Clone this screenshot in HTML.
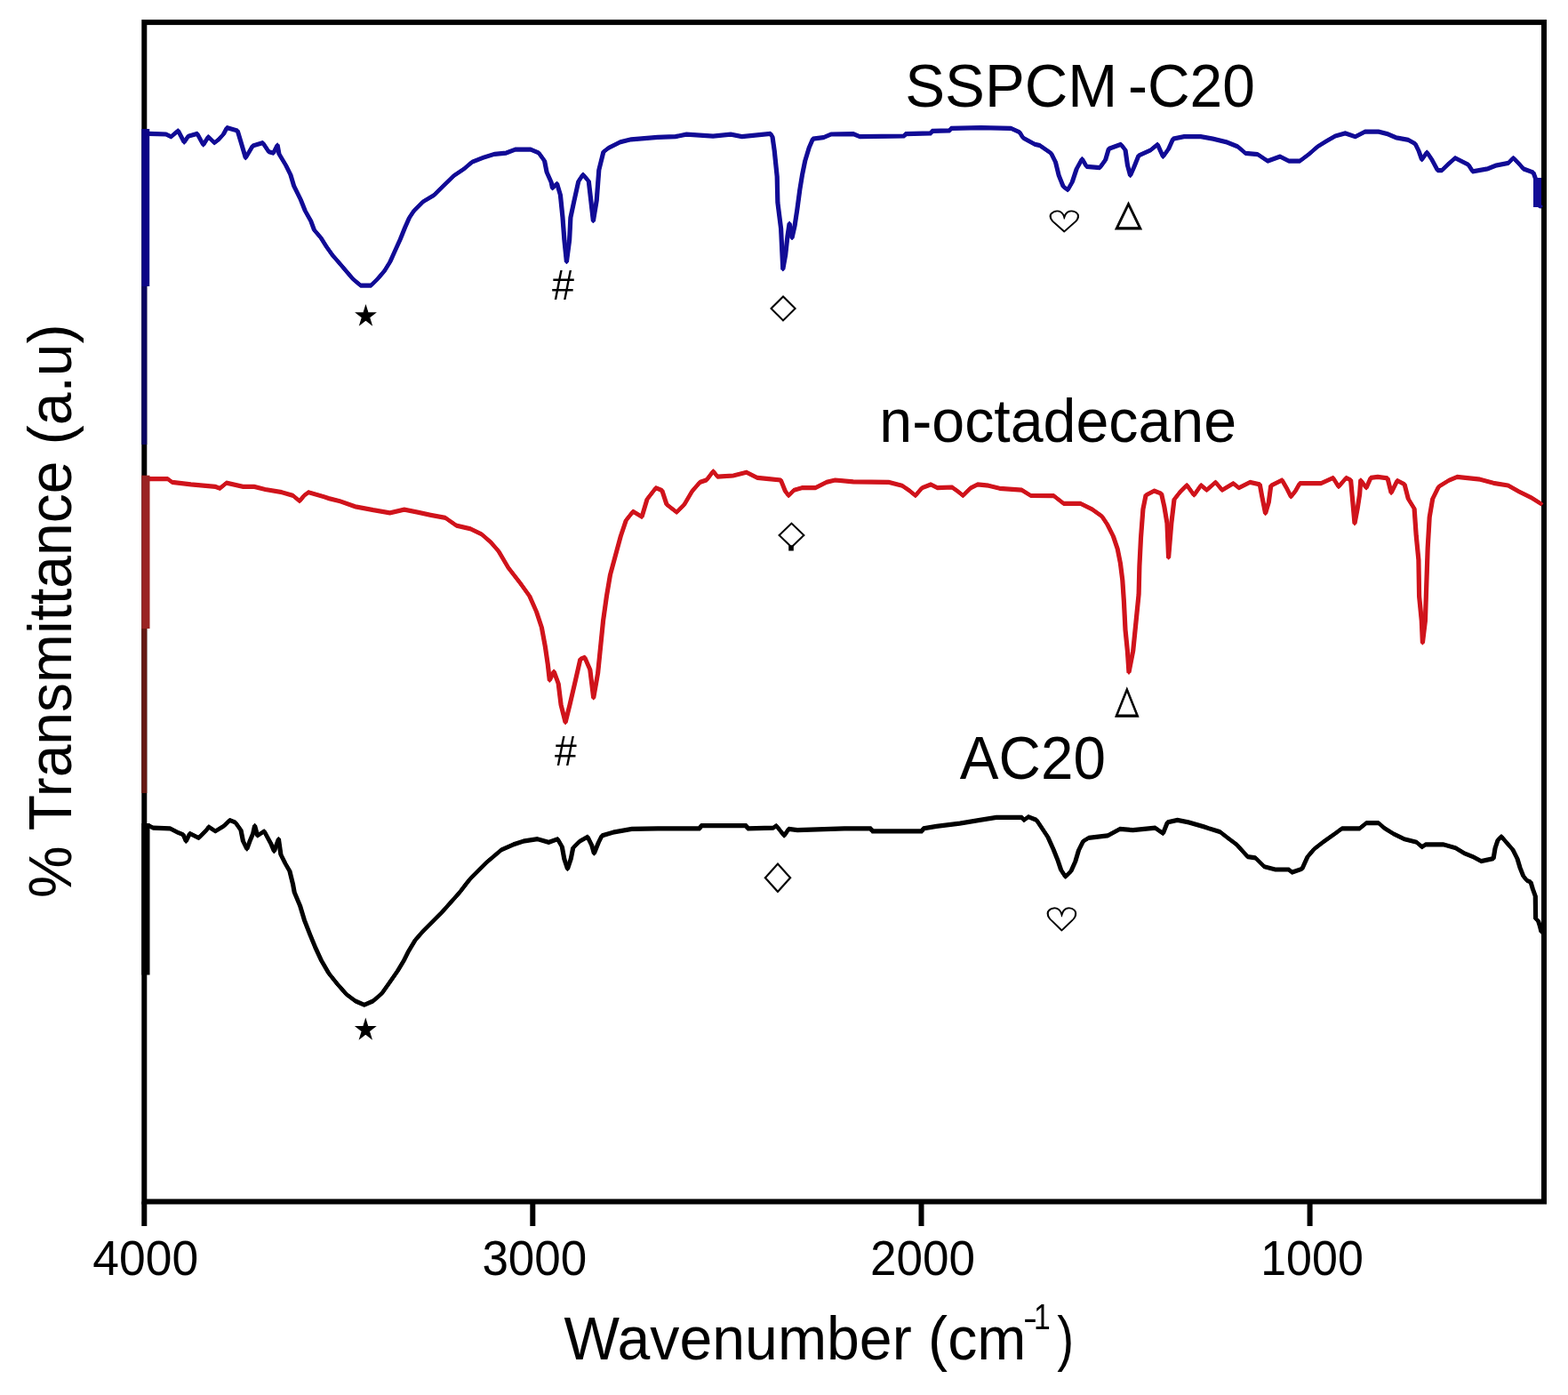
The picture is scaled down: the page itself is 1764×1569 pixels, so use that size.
<!DOCTYPE html>
<html><head><meta charset="utf-8"><title>FTIR spectra</title>
<style>
html,body{margin:0;padding:0;background:#fff;overflow:hidden;}
svg{display:block;}
.t{font-family:"Liberation Sans",Arial,sans-serif;fill:#000;}
.s{font-family:"DejaVu Sans","Liberation Sans",sans-serif;fill:#000;}
</style></head><body>
<svg width="1764" height="1569" viewBox="0 0 1764 1569">
<rect x="0" y="0" width="1764" height="1569" fill="#fff"/>
<g fill="none" stroke="#000" stroke-width="6">
<rect x="162.3" y="25.1" width="1574.70" height="1326.40"/>
<line x1="162.3" y1="1351.5" x2="162.3" y2="1379"/>
<line x1="599.3" y1="1351.5" x2="599.3" y2="1379"/>
<line x1="1036.5" y1="1351.5" x2="1036.5" y2="1379"/>
<line x1="1473.6" y1="1351.5" x2="1473.6" y2="1379"/>
</g>
<g fill="none" stroke-linejoin="round" stroke-linecap="round">
<polyline stroke="#120c96" stroke-width="3.8" points="163.5,150.4 167.5,150.4 186.7,151 192.4,153.8 200.4,147 207.2,160 211.7,153.2 221.9,150.4 228.7,162.9 234.4,153.8 241.2,160.6 245.7,157.2 251.4,151 255.3,143.6 267.2,147 270.6,158.3 276.3,177.6 284.3,164 295.6,160.6 302.4,170.8 307.6,172.1 312.1,163.1 314,173.3 321.7,186.1 326.8,196.3 330.6,209 338.2,224.3 343.3,237.1 349.7,248.5 353.5,258.7 361.2,267.7 367.6,277.9 373.9,286.8 381.6,295.7 389.2,304.6 396.9,313.6 405.8,321.2 417.3,321.2 424.9,313.6 432.6,304.6 438.9,294.4 444,283 450.4,268.9 455.5,256.2 460.6,244.7 465.7,237.1 475.9,226.9 488.7,219.2 498.9,209 510.6,197.6 522.1,189.9 531,182.3 543.7,177.2 556.5,173.3 569.2,172.1 579.4,168.2 597.3,168.2 606.2,172.1 612.6,181 615.1,193.7 620.2,205.2 621.5,211.6 626.6,206.5 630.4,219.2 633,244.7 634.9,270.2 637.4,294.4 640.6,270.2 641.9,244.7 645.7,226.9 650.8,203.9 655.9,196.3 662.3,203.9 664.8,225.6 667.4,248.5 671.2,225.6 673.8,191.2 678.9,170.8 684.9,166.2 697.4,159.9 709.9,156.8 739.8,154.3 759.8,153.7 772.2,151.2 802.2,153.1 822.1,151.2 834.6,153.7 866.8,150.3 869,153.9 871.2,169.3 874.2,198.6 874.9,227.9 878.6,257.2 880,286.5 880.8,302.6 883.7,286.5 885.9,266 888.1,251.4 891,267.5 894,254.3 896.9,235.2 899.8,213.3 902.7,195.7 905.7,181 910.1,166.4 914.5,156.1 926.2,154.7 935,151 960,150.6 967.5,153.7 1017.4,153 1018.6,150.6 1047.3,149.9 1048.5,147.4 1068.5,146.8 1069.8,144.3 1103.4,143.7 1137.1,144.3 1147.1,148.7 1150.8,154.9 1164.5,162.4 1170,163.7 1182.5,172.4 1187.5,182.4 1191.2,197.4 1196.2,209.8 1201.2,213.6 1206.2,204.9 1211.2,189.9 1217.4,178.7 1222.4,187.4 1237.3,188.6 1243.6,179.9 1247.3,167.4 1261,162.4 1266,168.7 1268.5,186.1 1271.6,197.4 1276,187.4 1281,174.9 1294.7,168.7 1302.2,162.4 1308.4,176.2 1314.7,167.4 1319.7,156.2 1332.1,153.7 1350.8,153.7 1364.6,156.2 1380,159.9 1392.5,164.9 1401.2,172.4 1414.9,173.6 1426.1,181.1 1439.9,176.1 1449.8,181.1 1462.3,181.1 1472.3,173.6 1482.3,164.9 1492.2,158.7 1502.2,153 1513.4,149.9 1524.7,153.7 1535.9,148.1 1550.9,148.1 1560.8,150.6 1570.8,154.9 1584.5,157.4 1592.2,161.8 1595.9,169.3 1599.6,179.6 1605.3,171.2 1610.9,179.6 1617.4,191.7 1622.1,191.7 1629.6,184.3 1637.1,177.7 1644.5,181.4 1652,185.2 1656.7,192.8 1673.5,189.9 1682.9,186.1 1696.9,183.3 1702.5,177.7 1709.1,184.3 1713.8,189.9 1725,194 1727.5,201 1728.5,215 1729.5,230 1733,232"/>
<polyline stroke="#120c96" stroke-width="1.8" transform="translate(0,1.7)" points="163.5,150.4 167.5,150.4 186.7,151 192.4,153.8 200.4,147 207.2,160 211.7,153.2 221.9,150.4 228.7,162.9 234.4,153.8 241.2,160.6 245.7,157.2 251.4,151 255.3,143.6 267.2,147 270.6,158.3 276.3,177.6 284.3,164 295.6,160.6 302.4,170.8 307.6,172.1 312.1,163.1 314,173.3 321.7,186.1 326.8,196.3 330.6,209 338.2,224.3 343.3,237.1 349.7,248.5 353.5,258.7 361.2,267.7 367.6,277.9 373.9,286.8 381.6,295.7 389.2,304.6 396.9,313.6 405.8,321.2 417.3,321.2 424.9,313.6 432.6,304.6 438.9,294.4 444,283 450.4,268.9 455.5,256.2 460.6,244.7 465.7,237.1 475.9,226.9 488.7,219.2 498.9,209 510.6,197.6 522.1,189.9 531,182.3 543.7,177.2 556.5,173.3 569.2,172.1 579.4,168.2 597.3,168.2 606.2,172.1 612.6,181 615.1,193.7 620.2,205.2 621.5,211.6 626.6,206.5 630.4,219.2 633,244.7 634.9,270.2 637.4,294.4 640.6,270.2 641.9,244.7 645.7,226.9 650.8,203.9 655.9,196.3 662.3,203.9 664.8,225.6 667.4,248.5 671.2,225.6 673.8,191.2 678.9,170.8 684.9,166.2 697.4,159.9 709.9,156.8 739.8,154.3 759.8,153.7 772.2,151.2 802.2,153.1 822.1,151.2 834.6,153.7 866.8,150.3 869,153.9 871.2,169.3 874.2,198.6 874.9,227.9 878.6,257.2 880,286.5 880.8,302.6 883.7,286.5 885.9,266 888.1,251.4 891,267.5 894,254.3 896.9,235.2 899.8,213.3 902.7,195.7 905.7,181 910.1,166.4 914.5,156.1 926.2,154.7 935,151 960,150.6 967.5,153.7 1017.4,153 1018.6,150.6 1047.3,149.9 1048.5,147.4 1068.5,146.8 1069.8,144.3 1103.4,143.7 1137.1,144.3 1147.1,148.7 1150.8,154.9 1164.5,162.4 1170,163.7 1182.5,172.4 1187.5,182.4 1191.2,197.4 1196.2,209.8 1201.2,213.6 1206.2,204.9 1211.2,189.9 1217.4,178.7 1222.4,187.4 1237.3,188.6 1243.6,179.9 1247.3,167.4 1261,162.4 1266,168.7 1268.5,186.1 1271.6,197.4 1276,187.4 1281,174.9 1294.7,168.7 1302.2,162.4 1308.4,176.2 1314.7,167.4 1319.7,156.2 1332.1,153.7 1350.8,153.7 1364.6,156.2 1380,159.9 1392.5,164.9 1401.2,172.4 1414.9,173.6 1426.1,181.1 1439.9,176.1 1449.8,181.1 1462.3,181.1 1472.3,173.6 1482.3,164.9 1492.2,158.7 1502.2,153 1513.4,149.9 1524.7,153.7 1535.9,148.1 1550.9,148.1 1560.8,150.6 1570.8,154.9 1584.5,157.4 1592.2,161.8 1595.9,169.3 1599.6,179.6 1605.3,171.2 1610.9,179.6 1617.4,191.7 1622.1,191.7 1629.6,184.3 1637.1,177.7 1644.5,181.4 1652,185.2 1656.7,192.8 1673.5,189.9 1682.9,186.1 1696.9,183.3 1702.5,177.7 1709.1,184.3 1713.8,189.9 1725,194 1727.5,201 1728.5,215 1729.5,230 1733,232"/>
<polyline stroke="#120c96" stroke-width="1.8" transform="translate(0,-1.7)" points="163.5,150.4 167.5,150.4 186.7,151 192.4,153.8 200.4,147 207.2,160 211.7,153.2 221.9,150.4 228.7,162.9 234.4,153.8 241.2,160.6 245.7,157.2 251.4,151 255.3,143.6 267.2,147 270.6,158.3 276.3,177.6 284.3,164 295.6,160.6 302.4,170.8 307.6,172.1 312.1,163.1 314,173.3 321.7,186.1 326.8,196.3 330.6,209 338.2,224.3 343.3,237.1 349.7,248.5 353.5,258.7 361.2,267.7 367.6,277.9 373.9,286.8 381.6,295.7 389.2,304.6 396.9,313.6 405.8,321.2 417.3,321.2 424.9,313.6 432.6,304.6 438.9,294.4 444,283 450.4,268.9 455.5,256.2 460.6,244.7 465.7,237.1 475.9,226.9 488.7,219.2 498.9,209 510.6,197.6 522.1,189.9 531,182.3 543.7,177.2 556.5,173.3 569.2,172.1 579.4,168.2 597.3,168.2 606.2,172.1 612.6,181 615.1,193.7 620.2,205.2 621.5,211.6 626.6,206.5 630.4,219.2 633,244.7 634.9,270.2 637.4,294.4 640.6,270.2 641.9,244.7 645.7,226.9 650.8,203.9 655.9,196.3 662.3,203.9 664.8,225.6 667.4,248.5 671.2,225.6 673.8,191.2 678.9,170.8 684.9,166.2 697.4,159.9 709.9,156.8 739.8,154.3 759.8,153.7 772.2,151.2 802.2,153.1 822.1,151.2 834.6,153.7 866.8,150.3 869,153.9 871.2,169.3 874.2,198.6 874.9,227.9 878.6,257.2 880,286.5 880.8,302.6 883.7,286.5 885.9,266 888.1,251.4 891,267.5 894,254.3 896.9,235.2 899.8,213.3 902.7,195.7 905.7,181 910.1,166.4 914.5,156.1 926.2,154.7 935,151 960,150.6 967.5,153.7 1017.4,153 1018.6,150.6 1047.3,149.9 1048.5,147.4 1068.5,146.8 1069.8,144.3 1103.4,143.7 1137.1,144.3 1147.1,148.7 1150.8,154.9 1164.5,162.4 1170,163.7 1182.5,172.4 1187.5,182.4 1191.2,197.4 1196.2,209.8 1201.2,213.6 1206.2,204.9 1211.2,189.9 1217.4,178.7 1222.4,187.4 1237.3,188.6 1243.6,179.9 1247.3,167.4 1261,162.4 1266,168.7 1268.5,186.1 1271.6,197.4 1276,187.4 1281,174.9 1294.7,168.7 1302.2,162.4 1308.4,176.2 1314.7,167.4 1319.7,156.2 1332.1,153.7 1350.8,153.7 1364.6,156.2 1380,159.9 1392.5,164.9 1401.2,172.4 1414.9,173.6 1426.1,181.1 1439.9,176.1 1449.8,181.1 1462.3,181.1 1472.3,173.6 1482.3,164.9 1492.2,158.7 1502.2,153 1513.4,149.9 1524.7,153.7 1535.9,148.1 1550.9,148.1 1560.8,150.6 1570.8,154.9 1584.5,157.4 1592.2,161.8 1595.9,169.3 1599.6,179.6 1605.3,171.2 1610.9,179.6 1617.4,191.7 1622.1,191.7 1629.6,184.3 1637.1,177.7 1644.5,181.4 1652,185.2 1656.7,192.8 1673.5,189.9 1682.9,186.1 1696.9,183.3 1702.5,177.7 1709.1,184.3 1713.8,189.9 1725,194 1727.5,201 1728.5,215 1729.5,230 1733,232"/>
<polyline stroke="#120c96" stroke-width="1.8" transform="translate(1.7,0)" points="163.5,150.4 167.5,150.4 186.7,151 192.4,153.8 200.4,147 207.2,160 211.7,153.2 221.9,150.4 228.7,162.9 234.4,153.8 241.2,160.6 245.7,157.2 251.4,151 255.3,143.6 267.2,147 270.6,158.3 276.3,177.6 284.3,164 295.6,160.6 302.4,170.8 307.6,172.1 312.1,163.1 314,173.3 321.7,186.1 326.8,196.3 330.6,209 338.2,224.3 343.3,237.1 349.7,248.5 353.5,258.7 361.2,267.7 367.6,277.9 373.9,286.8 381.6,295.7 389.2,304.6 396.9,313.6 405.8,321.2 417.3,321.2 424.9,313.6 432.6,304.6 438.9,294.4 444,283 450.4,268.9 455.5,256.2 460.6,244.7 465.7,237.1 475.9,226.9 488.7,219.2 498.9,209 510.6,197.6 522.1,189.9 531,182.3 543.7,177.2 556.5,173.3 569.2,172.1 579.4,168.2 597.3,168.2 606.2,172.1 612.6,181 615.1,193.7 620.2,205.2 621.5,211.6 626.6,206.5 630.4,219.2 633,244.7 634.9,270.2 637.4,294.4 640.6,270.2 641.9,244.7 645.7,226.9 650.8,203.9 655.9,196.3 662.3,203.9 664.8,225.6 667.4,248.5 671.2,225.6 673.8,191.2 678.9,170.8 684.9,166.2 697.4,159.9 709.9,156.8 739.8,154.3 759.8,153.7 772.2,151.2 802.2,153.1 822.1,151.2 834.6,153.7 866.8,150.3 869,153.9 871.2,169.3 874.2,198.6 874.9,227.9 878.6,257.2 880,286.5 880.8,302.6 883.7,286.5 885.9,266 888.1,251.4 891,267.5 894,254.3 896.9,235.2 899.8,213.3 902.7,195.7 905.7,181 910.1,166.4 914.5,156.1 926.2,154.7 935,151 960,150.6 967.5,153.7 1017.4,153 1018.6,150.6 1047.3,149.9 1048.5,147.4 1068.5,146.8 1069.8,144.3 1103.4,143.7 1137.1,144.3 1147.1,148.7 1150.8,154.9 1164.5,162.4 1170,163.7 1182.5,172.4 1187.5,182.4 1191.2,197.4 1196.2,209.8 1201.2,213.6 1206.2,204.9 1211.2,189.9 1217.4,178.7 1222.4,187.4 1237.3,188.6 1243.6,179.9 1247.3,167.4 1261,162.4 1266,168.7 1268.5,186.1 1271.6,197.4 1276,187.4 1281,174.9 1294.7,168.7 1302.2,162.4 1308.4,176.2 1314.7,167.4 1319.7,156.2 1332.1,153.7 1350.8,153.7 1364.6,156.2 1380,159.9 1392.5,164.9 1401.2,172.4 1414.9,173.6 1426.1,181.1 1439.9,176.1 1449.8,181.1 1462.3,181.1 1472.3,173.6 1482.3,164.9 1492.2,158.7 1502.2,153 1513.4,149.9 1524.7,153.7 1535.9,148.1 1550.9,148.1 1560.8,150.6 1570.8,154.9 1584.5,157.4 1592.2,161.8 1595.9,169.3 1599.6,179.6 1605.3,171.2 1610.9,179.6 1617.4,191.7 1622.1,191.7 1629.6,184.3 1637.1,177.7 1644.5,181.4 1652,185.2 1656.7,192.8 1673.5,189.9 1682.9,186.1 1696.9,183.3 1702.5,177.7 1709.1,184.3 1713.8,189.9 1725,194 1727.5,201 1728.5,215 1729.5,230 1733,232"/>
<polyline stroke="#120c96" stroke-width="1.8" transform="translate(-1.7,0)" points="163.5,150.4 167.5,150.4 186.7,151 192.4,153.8 200.4,147 207.2,160 211.7,153.2 221.9,150.4 228.7,162.9 234.4,153.8 241.2,160.6 245.7,157.2 251.4,151 255.3,143.6 267.2,147 270.6,158.3 276.3,177.6 284.3,164 295.6,160.6 302.4,170.8 307.6,172.1 312.1,163.1 314,173.3 321.7,186.1 326.8,196.3 330.6,209 338.2,224.3 343.3,237.1 349.7,248.5 353.5,258.7 361.2,267.7 367.6,277.9 373.9,286.8 381.6,295.7 389.2,304.6 396.9,313.6 405.8,321.2 417.3,321.2 424.9,313.6 432.6,304.6 438.9,294.4 444,283 450.4,268.9 455.5,256.2 460.6,244.7 465.7,237.1 475.9,226.9 488.7,219.2 498.9,209 510.6,197.6 522.1,189.9 531,182.3 543.7,177.2 556.5,173.3 569.2,172.1 579.4,168.2 597.3,168.2 606.2,172.1 612.6,181 615.1,193.7 620.2,205.2 621.5,211.6 626.6,206.5 630.4,219.2 633,244.7 634.9,270.2 637.4,294.4 640.6,270.2 641.9,244.7 645.7,226.9 650.8,203.9 655.9,196.3 662.3,203.9 664.8,225.6 667.4,248.5 671.2,225.6 673.8,191.2 678.9,170.8 684.9,166.2 697.4,159.9 709.9,156.8 739.8,154.3 759.8,153.7 772.2,151.2 802.2,153.1 822.1,151.2 834.6,153.7 866.8,150.3 869,153.9 871.2,169.3 874.2,198.6 874.9,227.9 878.6,257.2 880,286.5 880.8,302.6 883.7,286.5 885.9,266 888.1,251.4 891,267.5 894,254.3 896.9,235.2 899.8,213.3 902.7,195.7 905.7,181 910.1,166.4 914.5,156.1 926.2,154.7 935,151 960,150.6 967.5,153.7 1017.4,153 1018.6,150.6 1047.3,149.9 1048.5,147.4 1068.5,146.8 1069.8,144.3 1103.4,143.7 1137.1,144.3 1147.1,148.7 1150.8,154.9 1164.5,162.4 1170,163.7 1182.5,172.4 1187.5,182.4 1191.2,197.4 1196.2,209.8 1201.2,213.6 1206.2,204.9 1211.2,189.9 1217.4,178.7 1222.4,187.4 1237.3,188.6 1243.6,179.9 1247.3,167.4 1261,162.4 1266,168.7 1268.5,186.1 1271.6,197.4 1276,187.4 1281,174.9 1294.7,168.7 1302.2,162.4 1308.4,176.2 1314.7,167.4 1319.7,156.2 1332.1,153.7 1350.8,153.7 1364.6,156.2 1380,159.9 1392.5,164.9 1401.2,172.4 1414.9,173.6 1426.1,181.1 1439.9,176.1 1449.8,181.1 1462.3,181.1 1472.3,173.6 1482.3,164.9 1492.2,158.7 1502.2,153 1513.4,149.9 1524.7,153.7 1535.9,148.1 1550.9,148.1 1560.8,150.6 1570.8,154.9 1584.5,157.4 1592.2,161.8 1595.9,169.3 1599.6,179.6 1605.3,171.2 1610.9,179.6 1617.4,191.7 1622.1,191.7 1629.6,184.3 1637.1,177.7 1644.5,181.4 1652,185.2 1656.7,192.8 1673.5,189.9 1682.9,186.1 1696.9,183.3 1702.5,177.7 1709.1,184.3 1713.8,189.9 1725,194 1727.5,201 1728.5,215 1729.5,230 1733,232"/>
<polyline stroke="#d0141c" stroke-width="3.8" points="163.5,538.7 188.7,538.7 193.7,542.4 214.9,544.9 242.3,547.4 247.3,549.3 254.8,543.1 273.5,547.4 286,547.4 298.4,550.5 317.1,553.7 329.6,557.4 337.1,563.6 342.1,557.4 347.1,553.7 364.5,558.7 370,560.6 382.5,563.7 399.9,569.9 419.9,573.7 438.6,576.8 454.8,573.1 469.8,576.2 484.7,579.3 501,582.4 513.4,591.1 529.6,594.9 542.1,601.1 552.1,609.8 560.8,619.8 571.9,638.6 585.7,656.4 595.6,670.2 603.5,688 609.4,705.8 613.4,727.5 616.3,747.3 618.3,765.1 623.2,755.2 628.2,769 631.1,792.7 636.1,812.5 641,792.7 647,767 652.9,741.3 657.8,739.4 663.8,753.2 667.7,784.8 672.6,757.2 675.6,727.5 678.6,697.9 682.5,670.2 686.5,646.5 692.4,624.7 698.3,603 704.3,585.2 712.2,575.3 722.1,581.3 728,561.5 737.9,548.7 744.8,551.6 750,567.4 761.2,576.1 769.9,567.4 778.7,552.4 787.4,542.4 794.9,539.9 802.4,530 807.3,536.2 824.8,535 839.8,531.2 852.2,537.4 864.7,538.7 878.4,540 883.4,552.4 887.2,557.4 893.4,551.2 902.1,548.7 917.1,548.7 929.6,542.4 939.5,540 960,541.8 999.9,542.4 1014.9,546.2 1022.3,551.2 1029.8,557.4 1037.3,548.7 1047.3,544.9 1054.8,548.7 1071,548 1077.2,552.4 1083.4,557.4 1092.2,548.7 1099.7,544.9 1112.1,546.2 1124.6,549.3 1149.6,551.2 1159.5,557.4 1185.5,557.7 1196.7,566.4 1215.8,566.4 1228.5,572.8 1239.7,580.8 1246,590.3 1252.4,603.1 1257.2,617.4 1260.4,633.4 1262.8,652.5 1264.4,676.4 1266,708.3 1268.4,732.2 1270,756.1 1274.7,732.2 1277.9,700.3 1281.1,668.4 1281.9,636.6 1283.5,604.7 1285.9,572.8 1289.1,556.9 1298.6,552.1 1306.6,555.3 1309.8,569.6 1313,588.7 1314.6,627 1317.8,588.7 1321,561.7 1327.3,553.7 1335.3,545.7 1343.3,556.9 1351.2,545.7 1357.5,551.2 1367.5,542.4 1374.9,551.2 1387.4,543.7 1393.7,548.7 1406.1,542.4 1417.3,544.9 1419.8,558.7 1423.6,577.4 1427.3,564.9 1429.8,546.2 1442.3,540 1447.3,548.7 1452.3,558.7 1457.3,552.4 1462.2,543.7 1474.7,543.7 1485.9,543.7 1499.7,537.4 1505.9,547.4 1514.6,537.4 1519.6,540 1522.1,567.4 1524,588.6 1527.1,572.4 1529.6,556.2 1530.8,540 1537.1,548.7 1542.1,537.4 1550,536.4 1561,537.8 1565.1,554.3 1571.9,540.6 1580.1,544.7 1584.3,561.1 1591.1,572.1 1593.2,602.2 1595.9,629.6 1596.6,670.7 1599.3,698.2 1600.4,722.8 1603.4,698.2 1604.8,657 1606.2,615.9 1608.2,581.7 1611.7,561.1 1618.5,547.4 1629.5,540.6 1639.1,536.4 1665.1,539.2 1680.2,543.3 1696.6,546 1709,552.9 1722.7,559.7 1733.6,566.6"/>
<polyline stroke="#d0141c" stroke-width="1.8" transform="translate(0,1.7)" points="163.5,538.7 188.7,538.7 193.7,542.4 214.9,544.9 242.3,547.4 247.3,549.3 254.8,543.1 273.5,547.4 286,547.4 298.4,550.5 317.1,553.7 329.6,557.4 337.1,563.6 342.1,557.4 347.1,553.7 364.5,558.7 370,560.6 382.5,563.7 399.9,569.9 419.9,573.7 438.6,576.8 454.8,573.1 469.8,576.2 484.7,579.3 501,582.4 513.4,591.1 529.6,594.9 542.1,601.1 552.1,609.8 560.8,619.8 571.9,638.6 585.7,656.4 595.6,670.2 603.5,688 609.4,705.8 613.4,727.5 616.3,747.3 618.3,765.1 623.2,755.2 628.2,769 631.1,792.7 636.1,812.5 641,792.7 647,767 652.9,741.3 657.8,739.4 663.8,753.2 667.7,784.8 672.6,757.2 675.6,727.5 678.6,697.9 682.5,670.2 686.5,646.5 692.4,624.7 698.3,603 704.3,585.2 712.2,575.3 722.1,581.3 728,561.5 737.9,548.7 744.8,551.6 750,567.4 761.2,576.1 769.9,567.4 778.7,552.4 787.4,542.4 794.9,539.9 802.4,530 807.3,536.2 824.8,535 839.8,531.2 852.2,537.4 864.7,538.7 878.4,540 883.4,552.4 887.2,557.4 893.4,551.2 902.1,548.7 917.1,548.7 929.6,542.4 939.5,540 960,541.8 999.9,542.4 1014.9,546.2 1022.3,551.2 1029.8,557.4 1037.3,548.7 1047.3,544.9 1054.8,548.7 1071,548 1077.2,552.4 1083.4,557.4 1092.2,548.7 1099.7,544.9 1112.1,546.2 1124.6,549.3 1149.6,551.2 1159.5,557.4 1185.5,557.7 1196.7,566.4 1215.8,566.4 1228.5,572.8 1239.7,580.8 1246,590.3 1252.4,603.1 1257.2,617.4 1260.4,633.4 1262.8,652.5 1264.4,676.4 1266,708.3 1268.4,732.2 1270,756.1 1274.7,732.2 1277.9,700.3 1281.1,668.4 1281.9,636.6 1283.5,604.7 1285.9,572.8 1289.1,556.9 1298.6,552.1 1306.6,555.3 1309.8,569.6 1313,588.7 1314.6,627 1317.8,588.7 1321,561.7 1327.3,553.7 1335.3,545.7 1343.3,556.9 1351.2,545.7 1357.5,551.2 1367.5,542.4 1374.9,551.2 1387.4,543.7 1393.7,548.7 1406.1,542.4 1417.3,544.9 1419.8,558.7 1423.6,577.4 1427.3,564.9 1429.8,546.2 1442.3,540 1447.3,548.7 1452.3,558.7 1457.3,552.4 1462.2,543.7 1474.7,543.7 1485.9,543.7 1499.7,537.4 1505.9,547.4 1514.6,537.4 1519.6,540 1522.1,567.4 1524,588.6 1527.1,572.4 1529.6,556.2 1530.8,540 1537.1,548.7 1542.1,537.4 1550,536.4 1561,537.8 1565.1,554.3 1571.9,540.6 1580.1,544.7 1584.3,561.1 1591.1,572.1 1593.2,602.2 1595.9,629.6 1596.6,670.7 1599.3,698.2 1600.4,722.8 1603.4,698.2 1604.8,657 1606.2,615.9 1608.2,581.7 1611.7,561.1 1618.5,547.4 1629.5,540.6 1639.1,536.4 1665.1,539.2 1680.2,543.3 1696.6,546 1709,552.9 1722.7,559.7 1733.6,566.6"/>
<polyline stroke="#d0141c" stroke-width="1.8" transform="translate(0,-1.7)" points="163.5,538.7 188.7,538.7 193.7,542.4 214.9,544.9 242.3,547.4 247.3,549.3 254.8,543.1 273.5,547.4 286,547.4 298.4,550.5 317.1,553.7 329.6,557.4 337.1,563.6 342.1,557.4 347.1,553.7 364.5,558.7 370,560.6 382.5,563.7 399.9,569.9 419.9,573.7 438.6,576.8 454.8,573.1 469.8,576.2 484.7,579.3 501,582.4 513.4,591.1 529.6,594.9 542.1,601.1 552.1,609.8 560.8,619.8 571.9,638.6 585.7,656.4 595.6,670.2 603.5,688 609.4,705.8 613.4,727.5 616.3,747.3 618.3,765.1 623.2,755.2 628.2,769 631.1,792.7 636.1,812.5 641,792.7 647,767 652.9,741.3 657.8,739.4 663.8,753.2 667.7,784.8 672.6,757.2 675.6,727.5 678.6,697.9 682.5,670.2 686.5,646.5 692.4,624.7 698.3,603 704.3,585.2 712.2,575.3 722.1,581.3 728,561.5 737.9,548.7 744.8,551.6 750,567.4 761.2,576.1 769.9,567.4 778.7,552.4 787.4,542.4 794.9,539.9 802.4,530 807.3,536.2 824.8,535 839.8,531.2 852.2,537.4 864.7,538.7 878.4,540 883.4,552.4 887.2,557.4 893.4,551.2 902.1,548.7 917.1,548.7 929.6,542.4 939.5,540 960,541.8 999.9,542.4 1014.9,546.2 1022.3,551.2 1029.8,557.4 1037.3,548.7 1047.3,544.9 1054.8,548.7 1071,548 1077.2,552.4 1083.4,557.4 1092.2,548.7 1099.7,544.9 1112.1,546.2 1124.6,549.3 1149.6,551.2 1159.5,557.4 1185.5,557.7 1196.7,566.4 1215.8,566.4 1228.5,572.8 1239.7,580.8 1246,590.3 1252.4,603.1 1257.2,617.4 1260.4,633.4 1262.8,652.5 1264.4,676.4 1266,708.3 1268.4,732.2 1270,756.1 1274.7,732.2 1277.9,700.3 1281.1,668.4 1281.9,636.6 1283.5,604.7 1285.9,572.8 1289.1,556.9 1298.6,552.1 1306.6,555.3 1309.8,569.6 1313,588.7 1314.6,627 1317.8,588.7 1321,561.7 1327.3,553.7 1335.3,545.7 1343.3,556.9 1351.2,545.7 1357.5,551.2 1367.5,542.4 1374.9,551.2 1387.4,543.7 1393.7,548.7 1406.1,542.4 1417.3,544.9 1419.8,558.7 1423.6,577.4 1427.3,564.9 1429.8,546.2 1442.3,540 1447.3,548.7 1452.3,558.7 1457.3,552.4 1462.2,543.7 1474.7,543.7 1485.9,543.7 1499.7,537.4 1505.9,547.4 1514.6,537.4 1519.6,540 1522.1,567.4 1524,588.6 1527.1,572.4 1529.6,556.2 1530.8,540 1537.1,548.7 1542.1,537.4 1550,536.4 1561,537.8 1565.1,554.3 1571.9,540.6 1580.1,544.7 1584.3,561.1 1591.1,572.1 1593.2,602.2 1595.9,629.6 1596.6,670.7 1599.3,698.2 1600.4,722.8 1603.4,698.2 1604.8,657 1606.2,615.9 1608.2,581.7 1611.7,561.1 1618.5,547.4 1629.5,540.6 1639.1,536.4 1665.1,539.2 1680.2,543.3 1696.6,546 1709,552.9 1722.7,559.7 1733.6,566.6"/>
<polyline stroke="#d0141c" stroke-width="1.8" transform="translate(1.7,0)" points="163.5,538.7 188.7,538.7 193.7,542.4 214.9,544.9 242.3,547.4 247.3,549.3 254.8,543.1 273.5,547.4 286,547.4 298.4,550.5 317.1,553.7 329.6,557.4 337.1,563.6 342.1,557.4 347.1,553.7 364.5,558.7 370,560.6 382.5,563.7 399.9,569.9 419.9,573.7 438.6,576.8 454.8,573.1 469.8,576.2 484.7,579.3 501,582.4 513.4,591.1 529.6,594.9 542.1,601.1 552.1,609.8 560.8,619.8 571.9,638.6 585.7,656.4 595.6,670.2 603.5,688 609.4,705.8 613.4,727.5 616.3,747.3 618.3,765.1 623.2,755.2 628.2,769 631.1,792.7 636.1,812.5 641,792.7 647,767 652.9,741.3 657.8,739.4 663.8,753.2 667.7,784.8 672.6,757.2 675.6,727.5 678.6,697.9 682.5,670.2 686.5,646.5 692.4,624.7 698.3,603 704.3,585.2 712.2,575.3 722.1,581.3 728,561.5 737.9,548.7 744.8,551.6 750,567.4 761.2,576.1 769.9,567.4 778.7,552.4 787.4,542.4 794.9,539.9 802.4,530 807.3,536.2 824.8,535 839.8,531.2 852.2,537.4 864.7,538.7 878.4,540 883.4,552.4 887.2,557.4 893.4,551.2 902.1,548.7 917.1,548.7 929.6,542.4 939.5,540 960,541.8 999.9,542.4 1014.9,546.2 1022.3,551.2 1029.8,557.4 1037.3,548.7 1047.3,544.9 1054.8,548.7 1071,548 1077.2,552.4 1083.4,557.4 1092.2,548.7 1099.7,544.9 1112.1,546.2 1124.6,549.3 1149.6,551.2 1159.5,557.4 1185.5,557.7 1196.7,566.4 1215.8,566.4 1228.5,572.8 1239.7,580.8 1246,590.3 1252.4,603.1 1257.2,617.4 1260.4,633.4 1262.8,652.5 1264.4,676.4 1266,708.3 1268.4,732.2 1270,756.1 1274.7,732.2 1277.9,700.3 1281.1,668.4 1281.9,636.6 1283.5,604.7 1285.9,572.8 1289.1,556.9 1298.6,552.1 1306.6,555.3 1309.8,569.6 1313,588.7 1314.6,627 1317.8,588.7 1321,561.7 1327.3,553.7 1335.3,545.7 1343.3,556.9 1351.2,545.7 1357.5,551.2 1367.5,542.4 1374.9,551.2 1387.4,543.7 1393.7,548.7 1406.1,542.4 1417.3,544.9 1419.8,558.7 1423.6,577.4 1427.3,564.9 1429.8,546.2 1442.3,540 1447.3,548.7 1452.3,558.7 1457.3,552.4 1462.2,543.7 1474.7,543.7 1485.9,543.7 1499.7,537.4 1505.9,547.4 1514.6,537.4 1519.6,540 1522.1,567.4 1524,588.6 1527.1,572.4 1529.6,556.2 1530.8,540 1537.1,548.7 1542.1,537.4 1550,536.4 1561,537.8 1565.1,554.3 1571.9,540.6 1580.1,544.7 1584.3,561.1 1591.1,572.1 1593.2,602.2 1595.9,629.6 1596.6,670.7 1599.3,698.2 1600.4,722.8 1603.4,698.2 1604.8,657 1606.2,615.9 1608.2,581.7 1611.7,561.1 1618.5,547.4 1629.5,540.6 1639.1,536.4 1665.1,539.2 1680.2,543.3 1696.6,546 1709,552.9 1722.7,559.7 1733.6,566.6"/>
<polyline stroke="#d0141c" stroke-width="1.8" transform="translate(-1.7,0)" points="163.5,538.7 188.7,538.7 193.7,542.4 214.9,544.9 242.3,547.4 247.3,549.3 254.8,543.1 273.5,547.4 286,547.4 298.4,550.5 317.1,553.7 329.6,557.4 337.1,563.6 342.1,557.4 347.1,553.7 364.5,558.7 370,560.6 382.5,563.7 399.9,569.9 419.9,573.7 438.6,576.8 454.8,573.1 469.8,576.2 484.7,579.3 501,582.4 513.4,591.1 529.6,594.9 542.1,601.1 552.1,609.8 560.8,619.8 571.9,638.6 585.7,656.4 595.6,670.2 603.5,688 609.4,705.8 613.4,727.5 616.3,747.3 618.3,765.1 623.2,755.2 628.2,769 631.1,792.7 636.1,812.5 641,792.7 647,767 652.9,741.3 657.8,739.4 663.8,753.2 667.7,784.8 672.6,757.2 675.6,727.5 678.6,697.9 682.5,670.2 686.5,646.5 692.4,624.7 698.3,603 704.3,585.2 712.2,575.3 722.1,581.3 728,561.5 737.9,548.7 744.8,551.6 750,567.4 761.2,576.1 769.9,567.4 778.7,552.4 787.4,542.4 794.9,539.9 802.4,530 807.3,536.2 824.8,535 839.8,531.2 852.2,537.4 864.7,538.7 878.4,540 883.4,552.4 887.2,557.4 893.4,551.2 902.1,548.7 917.1,548.7 929.6,542.4 939.5,540 960,541.8 999.9,542.4 1014.9,546.2 1022.3,551.2 1029.8,557.4 1037.3,548.7 1047.3,544.9 1054.8,548.7 1071,548 1077.2,552.4 1083.4,557.4 1092.2,548.7 1099.7,544.9 1112.1,546.2 1124.6,549.3 1149.6,551.2 1159.5,557.4 1185.5,557.7 1196.7,566.4 1215.8,566.4 1228.5,572.8 1239.7,580.8 1246,590.3 1252.4,603.1 1257.2,617.4 1260.4,633.4 1262.8,652.5 1264.4,676.4 1266,708.3 1268.4,732.2 1270,756.1 1274.7,732.2 1277.9,700.3 1281.1,668.4 1281.9,636.6 1283.5,604.7 1285.9,572.8 1289.1,556.9 1298.6,552.1 1306.6,555.3 1309.8,569.6 1313,588.7 1314.6,627 1317.8,588.7 1321,561.7 1327.3,553.7 1335.3,545.7 1343.3,556.9 1351.2,545.7 1357.5,551.2 1367.5,542.4 1374.9,551.2 1387.4,543.7 1393.7,548.7 1406.1,542.4 1417.3,544.9 1419.8,558.7 1423.6,577.4 1427.3,564.9 1429.8,546.2 1442.3,540 1447.3,548.7 1452.3,558.7 1457.3,552.4 1462.2,543.7 1474.7,543.7 1485.9,543.7 1499.7,537.4 1505.9,547.4 1514.6,537.4 1519.6,540 1522.1,567.4 1524,588.6 1527.1,572.4 1529.6,556.2 1530.8,540 1537.1,548.7 1542.1,537.4 1550,536.4 1561,537.8 1565.1,554.3 1571.9,540.6 1580.1,544.7 1584.3,561.1 1591.1,572.1 1593.2,602.2 1595.9,629.6 1596.6,670.7 1599.3,698.2 1600.4,722.8 1603.4,698.2 1604.8,657 1606.2,615.9 1608.2,581.7 1611.7,561.1 1618.5,547.4 1629.5,540.6 1639.1,536.4 1665.1,539.2 1680.2,543.3 1696.6,546 1709,552.9 1722.7,559.7 1733.6,566.6"/>
<polyline stroke="#000" stroke-width="3.8" points="163.5,928.7 167.5,928.7 172.5,931.2 191.2,931.8 199.9,936.2 206.1,938.7 209.3,946.2 213.6,937.4 223.6,942.4 232.3,933.7 234.8,930 242.3,934.9 252.3,928.7 258.5,922.5 264.8,925 271,933.7 273.5,946.2 277.8,954.9 281,946.2 284.7,937.4 286.6,928.7 289.7,939.9 297.2,934.9 304.7,948.7 308.4,957.4 313.4,943.7 315.9,961.1 320.9,971.1 325.9,979.8 329.6,994.8 331.2,1003.7 337.5,1018.6 342.4,1034.8 348.7,1051 354.9,1066 361.2,1079.7 369.9,1094.7 379.9,1107.2 389.8,1118.4 399.8,1125.9 409.8,1130.2 419.8,1125.9 429.8,1117.1 438.5,1104.7 447.2,1092.2 454.7,1079.7 459.7,1069.7 467.2,1057.3 475.9,1047.3 485.9,1037.3 497.1,1026.1 507.1,1014.9 517.1,1003.7 525.8,992.4 530,987.3 537.5,979.8 547.5,969.9 554.9,963.6 563.7,956.1 577.4,949.9 588.6,946.2 604.8,943.7 617.3,947.4 627.3,943.7 632.3,952.4 634.8,966.1 638.5,977.3 642.2,966.1 644.7,953.7 652.2,946.2 661,941.2 665.9,951.2 668.4,959.9 673.4,947.4 677.2,939.9 689.6,936.2 710.8,932.4 740,931.8 787.4,931.8 788.6,928.7 839.8,928.7 841,931.8 869.7,931.2 873.4,928.7 882.2,939.9 887.2,932.4 897.1,933.7 950,931.8 979.9,931.8 981.2,934.9 1037.3,934.9 1038.6,931.8 1053.5,929.3 1079.7,926.2 1102.2,922.4 1120.9,919.3 1149.6,919.3 1152,922.4 1157,918.7 1166.2,922.4 1171.2,929.9 1178.7,941.2 1184.9,954.9 1189.9,967.3 1193.7,978.6 1198.6,986.1 1204.9,979.8 1209.9,968.6 1213.6,956.1 1218.6,946.1 1224.8,942.4 1246,939.9 1259.8,932.4 1274.7,933.7 1299.7,931.2 1308.4,937.4 1313.4,924.9 1324.6,922.4 1337.1,924.9 1354.5,929.9 1360,931.8 1372.5,935.6 1381.2,942.4 1391.2,949.9 1403.7,963.6 1412.4,964.9 1422.4,974.8 1434.8,978 1449.8,978 1453.5,981.1 1464.8,977.3 1471,963.6 1478.5,954.9 1489.7,946.2 1502.2,937.4 1509.7,931.8 1529.6,931.8 1537.1,925.6 1550.8,925.6 1557.1,931.2 1567,937.4 1579.9,943.8 1593.8,947.3 1599.8,952.7 1603.7,949.8 1623.6,949.8 1637.5,953.7 1647.4,959.7 1657.3,963.7 1666.2,968.6 1680.1,965.6 1682.1,953.7 1685.1,944.8 1689,940.8 1695,947.8 1701.9,955.7 1706.9,965.6 1709.9,975.6 1713.8,985.5 1718,990.5 1722,992 1724.4,1000 1727.3,1008 1727.6,1033 1730.6,1036 1732.5,1042 1734,1048"/>
<polyline stroke="#000" stroke-width="1.8" transform="translate(0,1.7)" points="163.5,928.7 167.5,928.7 172.5,931.2 191.2,931.8 199.9,936.2 206.1,938.7 209.3,946.2 213.6,937.4 223.6,942.4 232.3,933.7 234.8,930 242.3,934.9 252.3,928.7 258.5,922.5 264.8,925 271,933.7 273.5,946.2 277.8,954.9 281,946.2 284.7,937.4 286.6,928.7 289.7,939.9 297.2,934.9 304.7,948.7 308.4,957.4 313.4,943.7 315.9,961.1 320.9,971.1 325.9,979.8 329.6,994.8 331.2,1003.7 337.5,1018.6 342.4,1034.8 348.7,1051 354.9,1066 361.2,1079.7 369.9,1094.7 379.9,1107.2 389.8,1118.4 399.8,1125.9 409.8,1130.2 419.8,1125.9 429.8,1117.1 438.5,1104.7 447.2,1092.2 454.7,1079.7 459.7,1069.7 467.2,1057.3 475.9,1047.3 485.9,1037.3 497.1,1026.1 507.1,1014.9 517.1,1003.7 525.8,992.4 530,987.3 537.5,979.8 547.5,969.9 554.9,963.6 563.7,956.1 577.4,949.9 588.6,946.2 604.8,943.7 617.3,947.4 627.3,943.7 632.3,952.4 634.8,966.1 638.5,977.3 642.2,966.1 644.7,953.7 652.2,946.2 661,941.2 665.9,951.2 668.4,959.9 673.4,947.4 677.2,939.9 689.6,936.2 710.8,932.4 740,931.8 787.4,931.8 788.6,928.7 839.8,928.7 841,931.8 869.7,931.2 873.4,928.7 882.2,939.9 887.2,932.4 897.1,933.7 950,931.8 979.9,931.8 981.2,934.9 1037.3,934.9 1038.6,931.8 1053.5,929.3 1079.7,926.2 1102.2,922.4 1120.9,919.3 1149.6,919.3 1152,922.4 1157,918.7 1166.2,922.4 1171.2,929.9 1178.7,941.2 1184.9,954.9 1189.9,967.3 1193.7,978.6 1198.6,986.1 1204.9,979.8 1209.9,968.6 1213.6,956.1 1218.6,946.1 1224.8,942.4 1246,939.9 1259.8,932.4 1274.7,933.7 1299.7,931.2 1308.4,937.4 1313.4,924.9 1324.6,922.4 1337.1,924.9 1354.5,929.9 1360,931.8 1372.5,935.6 1381.2,942.4 1391.2,949.9 1403.7,963.6 1412.4,964.9 1422.4,974.8 1434.8,978 1449.8,978 1453.5,981.1 1464.8,977.3 1471,963.6 1478.5,954.9 1489.7,946.2 1502.2,937.4 1509.7,931.8 1529.6,931.8 1537.1,925.6 1550.8,925.6 1557.1,931.2 1567,937.4 1579.9,943.8 1593.8,947.3 1599.8,952.7 1603.7,949.8 1623.6,949.8 1637.5,953.7 1647.4,959.7 1657.3,963.7 1666.2,968.6 1680.1,965.6 1682.1,953.7 1685.1,944.8 1689,940.8 1695,947.8 1701.9,955.7 1706.9,965.6 1709.9,975.6 1713.8,985.5 1718,990.5 1722,992 1724.4,1000 1727.3,1008 1727.6,1033 1730.6,1036 1732.5,1042 1734,1048"/>
<polyline stroke="#000" stroke-width="1.8" transform="translate(0,-1.7)" points="163.5,928.7 167.5,928.7 172.5,931.2 191.2,931.8 199.9,936.2 206.1,938.7 209.3,946.2 213.6,937.4 223.6,942.4 232.3,933.7 234.8,930 242.3,934.9 252.3,928.7 258.5,922.5 264.8,925 271,933.7 273.5,946.2 277.8,954.9 281,946.2 284.7,937.4 286.6,928.7 289.7,939.9 297.2,934.9 304.7,948.7 308.4,957.4 313.4,943.7 315.9,961.1 320.9,971.1 325.9,979.8 329.6,994.8 331.2,1003.7 337.5,1018.6 342.4,1034.8 348.7,1051 354.9,1066 361.2,1079.7 369.9,1094.7 379.9,1107.2 389.8,1118.4 399.8,1125.9 409.8,1130.2 419.8,1125.9 429.8,1117.1 438.5,1104.7 447.2,1092.2 454.7,1079.7 459.7,1069.7 467.2,1057.3 475.9,1047.3 485.9,1037.3 497.1,1026.1 507.1,1014.9 517.1,1003.7 525.8,992.4 530,987.3 537.5,979.8 547.5,969.9 554.9,963.6 563.7,956.1 577.4,949.9 588.6,946.2 604.8,943.7 617.3,947.4 627.3,943.7 632.3,952.4 634.8,966.1 638.5,977.3 642.2,966.1 644.7,953.7 652.2,946.2 661,941.2 665.9,951.2 668.4,959.9 673.4,947.4 677.2,939.9 689.6,936.2 710.8,932.4 740,931.8 787.4,931.8 788.6,928.7 839.8,928.7 841,931.8 869.7,931.2 873.4,928.7 882.2,939.9 887.2,932.4 897.1,933.7 950,931.8 979.9,931.8 981.2,934.9 1037.3,934.9 1038.6,931.8 1053.5,929.3 1079.7,926.2 1102.2,922.4 1120.9,919.3 1149.6,919.3 1152,922.4 1157,918.7 1166.2,922.4 1171.2,929.9 1178.7,941.2 1184.9,954.9 1189.9,967.3 1193.7,978.6 1198.6,986.1 1204.9,979.8 1209.9,968.6 1213.6,956.1 1218.6,946.1 1224.8,942.4 1246,939.9 1259.8,932.4 1274.7,933.7 1299.7,931.2 1308.4,937.4 1313.4,924.9 1324.6,922.4 1337.1,924.9 1354.5,929.9 1360,931.8 1372.5,935.6 1381.2,942.4 1391.2,949.9 1403.7,963.6 1412.4,964.9 1422.4,974.8 1434.8,978 1449.8,978 1453.5,981.1 1464.8,977.3 1471,963.6 1478.5,954.9 1489.7,946.2 1502.2,937.4 1509.7,931.8 1529.6,931.8 1537.1,925.6 1550.8,925.6 1557.1,931.2 1567,937.4 1579.9,943.8 1593.8,947.3 1599.8,952.7 1603.7,949.8 1623.6,949.8 1637.5,953.7 1647.4,959.7 1657.3,963.7 1666.2,968.6 1680.1,965.6 1682.1,953.7 1685.1,944.8 1689,940.8 1695,947.8 1701.9,955.7 1706.9,965.6 1709.9,975.6 1713.8,985.5 1718,990.5 1722,992 1724.4,1000 1727.3,1008 1727.6,1033 1730.6,1036 1732.5,1042 1734,1048"/>
<polyline stroke="#000" stroke-width="1.8" transform="translate(1.7,0)" points="163.5,928.7 167.5,928.7 172.5,931.2 191.2,931.8 199.9,936.2 206.1,938.7 209.3,946.2 213.6,937.4 223.6,942.4 232.3,933.7 234.8,930 242.3,934.9 252.3,928.7 258.5,922.5 264.8,925 271,933.7 273.5,946.2 277.8,954.9 281,946.2 284.7,937.4 286.6,928.7 289.7,939.9 297.2,934.9 304.7,948.7 308.4,957.4 313.4,943.7 315.9,961.1 320.9,971.1 325.9,979.8 329.6,994.8 331.2,1003.7 337.5,1018.6 342.4,1034.8 348.7,1051 354.9,1066 361.2,1079.7 369.9,1094.7 379.9,1107.2 389.8,1118.4 399.8,1125.9 409.8,1130.2 419.8,1125.9 429.8,1117.1 438.5,1104.7 447.2,1092.2 454.7,1079.7 459.7,1069.7 467.2,1057.3 475.9,1047.3 485.9,1037.3 497.1,1026.1 507.1,1014.9 517.1,1003.7 525.8,992.4 530,987.3 537.5,979.8 547.5,969.9 554.9,963.6 563.7,956.1 577.4,949.9 588.6,946.2 604.8,943.7 617.3,947.4 627.3,943.7 632.3,952.4 634.8,966.1 638.5,977.3 642.2,966.1 644.7,953.7 652.2,946.2 661,941.2 665.9,951.2 668.4,959.9 673.4,947.4 677.2,939.9 689.6,936.2 710.8,932.4 740,931.8 787.4,931.8 788.6,928.7 839.8,928.7 841,931.8 869.7,931.2 873.4,928.7 882.2,939.9 887.2,932.4 897.1,933.7 950,931.8 979.9,931.8 981.2,934.9 1037.3,934.9 1038.6,931.8 1053.5,929.3 1079.7,926.2 1102.2,922.4 1120.9,919.3 1149.6,919.3 1152,922.4 1157,918.7 1166.2,922.4 1171.2,929.9 1178.7,941.2 1184.9,954.9 1189.9,967.3 1193.7,978.6 1198.6,986.1 1204.9,979.8 1209.9,968.6 1213.6,956.1 1218.6,946.1 1224.8,942.4 1246,939.9 1259.8,932.4 1274.7,933.7 1299.7,931.2 1308.4,937.4 1313.4,924.9 1324.6,922.4 1337.1,924.9 1354.5,929.9 1360,931.8 1372.5,935.6 1381.2,942.4 1391.2,949.9 1403.7,963.6 1412.4,964.9 1422.4,974.8 1434.8,978 1449.8,978 1453.5,981.1 1464.8,977.3 1471,963.6 1478.5,954.9 1489.7,946.2 1502.2,937.4 1509.7,931.8 1529.6,931.8 1537.1,925.6 1550.8,925.6 1557.1,931.2 1567,937.4 1579.9,943.8 1593.8,947.3 1599.8,952.7 1603.7,949.8 1623.6,949.8 1637.5,953.7 1647.4,959.7 1657.3,963.7 1666.2,968.6 1680.1,965.6 1682.1,953.7 1685.1,944.8 1689,940.8 1695,947.8 1701.9,955.7 1706.9,965.6 1709.9,975.6 1713.8,985.5 1718,990.5 1722,992 1724.4,1000 1727.3,1008 1727.6,1033 1730.6,1036 1732.5,1042 1734,1048"/>
<polyline stroke="#000" stroke-width="1.8" transform="translate(-1.7,0)" points="163.5,928.7 167.5,928.7 172.5,931.2 191.2,931.8 199.9,936.2 206.1,938.7 209.3,946.2 213.6,937.4 223.6,942.4 232.3,933.7 234.8,930 242.3,934.9 252.3,928.7 258.5,922.5 264.8,925 271,933.7 273.5,946.2 277.8,954.9 281,946.2 284.7,937.4 286.6,928.7 289.7,939.9 297.2,934.9 304.7,948.7 308.4,957.4 313.4,943.7 315.9,961.1 320.9,971.1 325.9,979.8 329.6,994.8 331.2,1003.7 337.5,1018.6 342.4,1034.8 348.7,1051 354.9,1066 361.2,1079.7 369.9,1094.7 379.9,1107.2 389.8,1118.4 399.8,1125.9 409.8,1130.2 419.8,1125.9 429.8,1117.1 438.5,1104.7 447.2,1092.2 454.7,1079.7 459.7,1069.7 467.2,1057.3 475.9,1047.3 485.9,1037.3 497.1,1026.1 507.1,1014.9 517.1,1003.7 525.8,992.4 530,987.3 537.5,979.8 547.5,969.9 554.9,963.6 563.7,956.1 577.4,949.9 588.6,946.2 604.8,943.7 617.3,947.4 627.3,943.7 632.3,952.4 634.8,966.1 638.5,977.3 642.2,966.1 644.7,953.7 652.2,946.2 661,941.2 665.9,951.2 668.4,959.9 673.4,947.4 677.2,939.9 689.6,936.2 710.8,932.4 740,931.8 787.4,931.8 788.6,928.7 839.8,928.7 841,931.8 869.7,931.2 873.4,928.7 882.2,939.9 887.2,932.4 897.1,933.7 950,931.8 979.9,931.8 981.2,934.9 1037.3,934.9 1038.6,931.8 1053.5,929.3 1079.7,926.2 1102.2,922.4 1120.9,919.3 1149.6,919.3 1152,922.4 1157,918.7 1166.2,922.4 1171.2,929.9 1178.7,941.2 1184.9,954.9 1189.9,967.3 1193.7,978.6 1198.6,986.1 1204.9,979.8 1209.9,968.6 1213.6,956.1 1218.6,946.1 1224.8,942.4 1246,939.9 1259.8,932.4 1274.7,933.7 1299.7,931.2 1308.4,937.4 1313.4,924.9 1324.6,922.4 1337.1,924.9 1354.5,929.9 1360,931.8 1372.5,935.6 1381.2,942.4 1391.2,949.9 1403.7,963.6 1412.4,964.9 1422.4,974.8 1434.8,978 1449.8,978 1453.5,981.1 1464.8,977.3 1471,963.6 1478.5,954.9 1489.7,946.2 1502.2,937.4 1509.7,931.8 1529.6,931.8 1537.1,925.6 1550.8,925.6 1557.1,931.2 1567,937.4 1579.9,943.8 1593.8,947.3 1599.8,952.7 1603.7,949.8 1623.6,949.8 1637.5,953.7 1647.4,959.7 1657.3,963.7 1666.2,968.6 1680.1,965.6 1682.1,953.7 1685.1,944.8 1689,940.8 1695,947.8 1701.9,955.7 1706.9,965.6 1709.9,975.6 1713.8,985.5 1718,990.5 1722,992 1724.4,1000 1727.3,1008 1727.6,1033 1730.6,1036 1732.5,1042 1734,1048"/>
</g>
<rect x="159.3" y="145" width="8.90" height="177.00" fill="#0c0486"/>
<rect x="159.3" y="322" width="6.00" height="178.00" fill="#0a0560"/>
<rect x="159.3" y="534.7" width="9.20" height="172.30" fill="#9a2424"/>
<rect x="159.3" y="707" width="6.00" height="185.00" fill="#661812"/>
<rect x="159.3" y="926" width="9.20" height="170.50" fill="#000"/>
<text class="t" xml:space="preserve"><tspan x="1018.28" y="119.60" font-size="69.00" textLength="238.96" lengthAdjust="spacingAndGlyphs">SSPCM</tspan> <tspan x="1269.04" y="119.60" font-size="69.00" textLength="142.81" lengthAdjust="spacingAndGlyphs">-C20</tspan></text>
<text class="t" x="989.30" y="496.80" font-size="69.00" textLength="401.84" lengthAdjust="spacingAndGlyphs" xml:space="preserve">n-octadecane</text>
<text class="t" x="1079.80" y="876.10" font-size="69.00" textLength="164.08" lengthAdjust="spacingAndGlyphs" xml:space="preserve">AC20</text>
<text class="t" xml:space="preserve"><tspan x="634.50" y="1528.90" font-size="69.00" textLength="519.91" lengthAdjust="spacingAndGlyphs">Wavenumber (cm</tspan><tspan x="1150.96" y="1496.30" font-size="41.00" textLength="15.98" lengthAdjust="spacingAndGlyphs">-</tspan><tspan x="1163.03" y="1494.70" font-size="41.00" textLength="18.76" lengthAdjust="spacingAndGlyphs">1</tspan><tspan x="1189.18" y="1528.90" font-size="69.00" textLength="18.90" lengthAdjust="spacingAndGlyphs">)</tspan></text>
<text class="t" x="104.35" y="1433.50" font-size="56.00" textLength="118.92" lengthAdjust="spacingAndGlyphs" xml:space="preserve">4000</text>
<text class="t" x="542.41" y="1433.50" font-size="56.00" textLength="117.83" lengthAdjust="spacingAndGlyphs" xml:space="preserve">3000</text>
<text class="t" x="979.06" y="1433.50" font-size="56.00" textLength="117.98" lengthAdjust="spacingAndGlyphs" xml:space="preserve">2000</text>
<text class="t" x="1418.19" y="1433.50" font-size="56.00" textLength="115.60" lengthAdjust="spacingAndGlyphs" xml:space="preserve">1000</text>
<text class="t" transform="translate(79.70,1010.01) rotate(-90)" font-size="69.00" textLength="645.45" lengthAdjust="spacingAndGlyphs">% Transmittance (a.u)</text>
<text class="s" x="399.01" y="364.98" font-size="29.25" textLength="24.98" lengthAdjust="spacingAndGlyphs" stroke="#000" stroke-width="1.2" xml:space="preserve">★</text>
<text class="s" x="398.80" y="1167.80" font-size="30.00" textLength="25.11" lengthAdjust="spacingAndGlyphs" stroke="#000" stroke-width="1.2" xml:space="preserve">★</text>
<text class="t" x="621.00" y="337.40" font-size="47.72" textLength="24.98" lengthAdjust="spacingAndGlyphs" xml:space="preserve">#</text>
<text class="t" x="624.00" y="860.90" font-size="47.29" textLength="24.77" lengthAdjust="spacingAndGlyphs" xml:space="preserve">#</text>
<text class="s" x="866.00" y="356.87" font-size="38.93" textLength="30.15" lengthAdjust="spacingAndGlyphs" xml:space="preserve">◇</text>
<text class="s" x="875.00" y="611.70" font-size="38.67" textLength="30.97" lengthAdjust="spacingAndGlyphs" xml:space="preserve">◇</text>
<text class="s" x="859.30" y="998.96" font-size="45.33" textLength="31.48" lengthAdjust="spacingAndGlyphs" xml:space="preserve">◇</text>
<text class="s" x="1176.93" y="260.50" font-size="33.09" textLength="40.60" lengthAdjust="spacingAndGlyphs" stroke="#000" stroke-width="0.8" xml:space="preserve">♡</text>
<text class="s" x="1174.00" y="1047.40" font-size="36.00" textLength="40.85" lengthAdjust="spacingAndGlyphs" stroke="#000" stroke-width="0.8" xml:space="preserve">♡</text>
<text class="s" x="1254.45" y="253.09" font-size="40.13" textLength="30.05" lengthAdjust="spacingAndGlyphs" stroke="#000" stroke-width="0.9" xml:space="preserve">△</text>
<text class="s" x="1254.45" y="800.65" font-size="43.20" textLength="26.66" lengthAdjust="spacingAndGlyphs" stroke="#000" stroke-width="0.9" xml:space="preserve">△</text>
<rect x="887.2" y="613.3" width="5.6" height="6.2" fill="#000"/>
<rect x="1725" y="200" width="9" height="33" fill="#120c96"/>
</svg>
</body></html>
